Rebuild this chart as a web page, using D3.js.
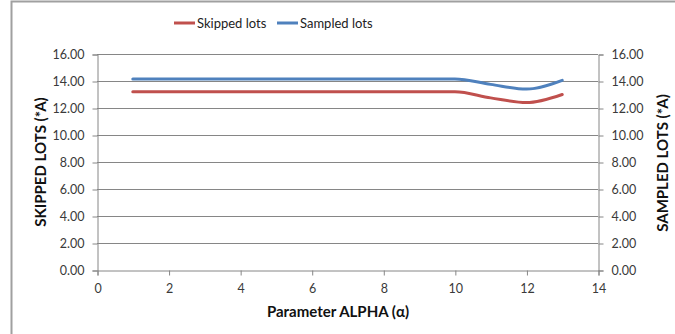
<!DOCTYPE html>
<html><head><meta charset="utf-8">
<script src="https://cdn.jsdelivr.net/npm/d3@7"></script>
<style>body{margin:0;background:#fff}svg{display:block}text{font-family:Lato,"Open Sans",sans-serif}</style>
</head><body><svg id="c" width="675" height="334"></svg>
<script>
const alphaValues = [1,2,3,4,5,6,7,8,9,10,11,12,13];
const skippedLots = [13.2,13.2,13.2,13.2,13.2,13.2,13.2,13.2,13.2,13.2,12.75,12.4,13.0];
const sampledLots = [14.15,14.15,14.15,14.15,14.15,14.15,14.15,14.15,14.15,14.15,13.75,13.4,14.05];
const xTicks = [0,2,4,6,8,10,12,14];
const yTicks = [0,2,4,6,8,10,12,14,16];
const seriesNames = ["Skipped lots","Sampled lots"];
const seriesColors = ["#C0504D","#4F81BD"];

const svg = d3.select("#c");
const L=97, R=598, T=54, B=270;
const x = d3.scaleLinear().domain([0,14]).range([L,R]);
const y = d3.scaleLinear().domain([0,16]).range([B,T]);
const axisCol = "#868686";

// chart border
svg.append("path").attr("d","M11.5,334 V1.5 H675").attr("fill","none").attr("stroke","#a0a0a0").attr("stroke-width",2);

// gridlines
svg.append("g").selectAll("line").data(yTicks.filter(d=>d>0)).join("line")
  .attr("x1",L).attr("x2",R).attr("y1",d=>Math.round(y(d))+0.5).attr("y2",d=>Math.round(y(d))+0.5)
  .attr("stroke",axisCol).attr("stroke-width",1);

const fmt = d3.format(".2f");
function styleAxis(g){
  g.selectAll("path,line").attr("stroke",axisCol);
  g.selectAll("text").attr("fill","#3a3a3a").style("font-size","12.5px");
}
svg.append("g").attr("transform",`translate(${L+0.5},0.5)`)
  .call(d3.axisLeft(y).tickValues(yTicks).tickFormat(fmt).tickSizeOuter(0).tickSize(5).tickPadding(8))
  .call(styleAxis);
svg.append("g").attr("transform",`translate(${R+0.5},0.5)`)
  .call(d3.axisRight(y).tickValues(yTicks).tickFormat(fmt).tickSizeOuter(0).tickSize(5).tickPadding(8))
  .call(styleAxis);
svg.append("g").attr("transform",`translate(0.5,${B+0.5})`)
  .call(d3.axisBottom(x).tickValues(xTicks).tickFormat(d3.format("d")).tickSizeOuter(0).tickSize(5).tickPadding(9))
  .call(styleAxis);

// lines
const line = d3.line().x((d,i)=>x(alphaValues[i])).y(d=>y(d)).curve(d3.curveMonotoneX);
[skippedLots,sampledLots].forEach((s,k)=>{
  svg.append("path").attr("d",line(s)).attr("fill","none").attr("stroke",seriesColors[k]).attr("stroke-width",3).attr("stroke-linecap","round");
});

// axis titles
svg.append("text").attr("transform","translate(46,162) rotate(-90)").attr("text-anchor","middle")
  .style("font-size","15px").style("font-weight","bold").attr("fill","#111").text("SKIPPED LOTS (*A)");
svg.append("text").attr("transform","translate(668,163) rotate(-90)").attr("text-anchor","middle")
  .style("font-size","15px").style("font-weight","bold").attr("fill","#111").text("SAMPLED LOTS (*A)");
svg.append("text").attr("x",338).attr("y",317).attr("text-anchor","middle")
  .style("font-size","15px").style("font-weight","bold").attr("fill","#111").text("Parameter ALPHA (α)");

// legend
const legX=[174,277];
seriesNames.forEach((n,k)=>{
  const g=svg.append("g");
  g.append("line").attr("x1",legX[k]).attr("x2",legX[k]+21).attr("y1",23).attr("y2",23).attr("stroke",seriesColors[k]).attr("stroke-width",3);
  g.append("text").attr("x",legX[k]+23).attr("y",28).style("font-size","13px").attr("fill","#222").text(n);
});
</script></body></html>
